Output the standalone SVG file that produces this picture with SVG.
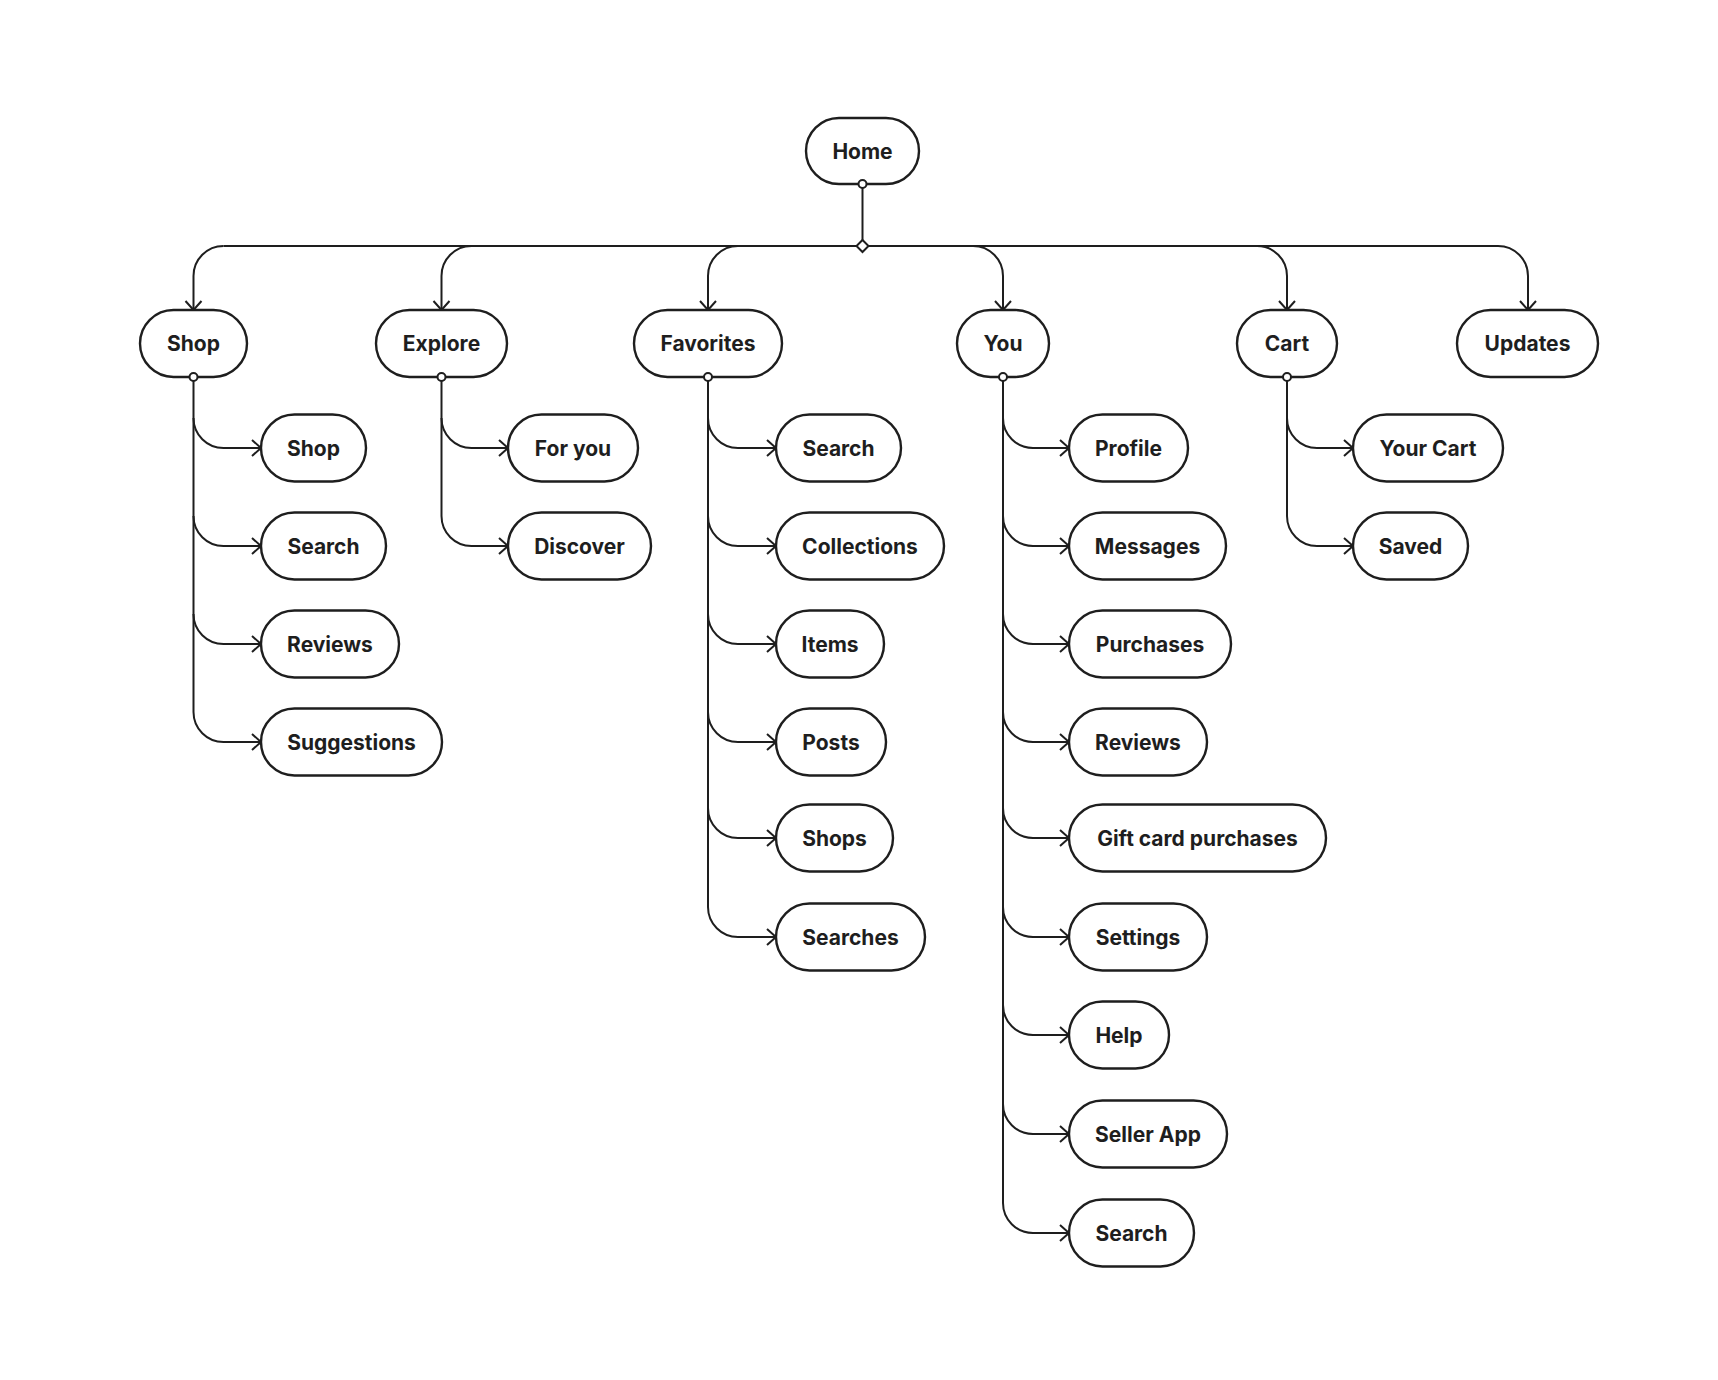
<svg xmlns="http://www.w3.org/2000/svg" width="1718" height="1380" viewBox="0 0 1718 1380">
<style>
.n rect{fill:#fff;stroke:#1e1e1e;stroke-width:2.4}
.n text{font-family:Inter,"Liberation Sans",sans-serif;font-weight:700;font-size:21px;fill:#1e1e1e;text-anchor:middle;dominant-baseline:central}
.c path{fill:none;stroke:#1e1e1e;stroke-width:2}
.a{marker-end:url(#arr)}
.dot{fill:#fff;stroke:#1e1e1e;stroke-width:2}
</style>
<defs>
<marker id="arr" viewBox="-12 -12 24 24" markerWidth="24" markerHeight="24" refX="0" refY="0" orient="auto" markerUnits="userSpaceOnUse">
<path d="M -9 -8 L 0 0 L -9 8" fill="none" stroke="#1e1e1e" stroke-width="2"/>
</marker>
</defs>
<rect width="1718" height="1380" fill="#fff"/>
<g class="c" id="connectors">
<path d="M 862.5 187 V 246"/>
<path d="M 223.5 246 H 1498"/>
<path class="a" d="M 223.5 246 A 30 30 0 0 0 193.5 276 V 310"/>
<path class="a" d="M 471.5 246 A 30 30 0 0 0 441.5 276 V 310"/>
<path class="a" d="M 738 246 A 30 30 0 0 0 708 276 V 310"/>
<path class="a" d="M 973 246 A 30 30 0 0 1 1003 276 V 310"/>
<path class="a" d="M 1257 246 A 30 30 0 0 1 1287 276 V 310"/>
<path class="a" d="M 1498 246 A 30 30 0 0 1 1528 276 V 310"/>
<path d="M 193.5 381 V 712"/>
<path class="a" d="M 193.5 418 A 30 30 0 0 0 223.5 448 H 261"/>
<path class="a" d="M 193.5 516 A 30 30 0 0 0 223.5 546 H 261"/>
<path class="a" d="M 193.5 614 A 30 30 0 0 0 223.5 644 H 261"/>
<path class="a" d="M 193.5 712 A 30 30 0 0 0 223.5 742 H 261"/>
<path d="M 441.5 381 V 516"/>
<path class="a" d="M 441.5 418 A 30 30 0 0 0 471.5 448 H 508"/>
<path class="a" d="M 441.5 516 A 30 30 0 0 0 471.5 546 H 508"/>
<path d="M 708 381 V 907"/>
<path class="a" d="M 708 418 A 30 30 0 0 0 738 448 H 776"/>
<path class="a" d="M 708 516 A 30 30 0 0 0 738 546 H 776"/>
<path class="a" d="M 708 614 A 30 30 0 0 0 738 644 H 776"/>
<path class="a" d="M 708 712 A 30 30 0 0 0 738 742 H 776"/>
<path class="a" d="M 708 808 A 30 30 0 0 0 738 838 H 776"/>
<path class="a" d="M 708 907 A 30 30 0 0 0 738 937 H 776"/>
<path d="M 1003 381 V 1203"/>
<path class="a" d="M 1003 418 A 30 30 0 0 0 1033 448 H 1069"/>
<path class="a" d="M 1003 516 A 30 30 0 0 0 1033 546 H 1069"/>
<path class="a" d="M 1003 614 A 30 30 0 0 0 1033 644 H 1069"/>
<path class="a" d="M 1003 712 A 30 30 0 0 0 1033 742 H 1069"/>
<path class="a" d="M 1003 808 A 30 30 0 0 0 1033 838 H 1069"/>
<path class="a" d="M 1003 907 A 30 30 0 0 0 1033 937 H 1069"/>
<path class="a" d="M 1003 1005 A 30 30 0 0 0 1033 1035 H 1069"/>
<path class="a" d="M 1003 1104 A 30 30 0 0 0 1033 1134 H 1069"/>
<path class="a" d="M 1003 1203 A 30 30 0 0 0 1033 1233 H 1069"/>
<path d="M 1287 381 V 516"/>
<path class="a" d="M 1287 418 A 30 30 0 0 0 1317 448 H 1353"/>
<path class="a" d="M 1287 516 A 30 30 0 0 0 1317 546 H 1353"/>
</g>
<g id="home" class="n"><rect x="806" y="118" width="113" height="66" rx="33"/><text x="862.5" y="151">Home</text></g>
<g id="shop" class="n"><rect x="140" y="310" width="107" height="67" rx="33.5"/><text x="193.5" y="343.5">Shop</text></g>
<g id="explore" class="n"><rect x="376" y="310" width="131" height="67" rx="33.5"/><text x="441.5" y="343.5">Explore</text></g>
<g id="favorites" class="n"><rect x="634" y="310" width="148" height="67" rx="33.5"/><text x="708" y="343.5">Favorites</text></g>
<g id="you" class="n"><rect x="957" y="310" width="92" height="67" rx="33.5"/><text x="1003" y="343.5">You</text></g>
<g id="cart" class="n"><rect x="1237" y="310" width="100" height="67" rx="33.5"/><text x="1287" y="343.5">Cart</text></g>
<g id="updates" class="n"><rect x="1457" y="310" width="141" height="67" rx="33.5"/><text x="1527.5" y="343.5">Updates</text></g>
<g id="shop-shop" class="n"><rect x="261" y="414.5" width="105" height="67" rx="33.5"/><text x="313.5" y="448">Shop</text></g>
<g id="shop-search" class="n"><rect x="261" y="512.5" width="125" height="67" rx="33.5"/><text x="323.5" y="546">Search</text></g>
<g id="shop-reviews" class="n"><rect x="261" y="610.5" width="138" height="67" rx="33.5"/><text x="330" y="644">Reviews</text></g>
<g id="shop-suggestions" class="n"><rect x="261" y="708.5" width="181" height="67" rx="33.5"/><text x="351.5" y="742">Suggestions</text></g>
<g id="explore-foryou" class="n"><rect x="508" y="414.5" width="130" height="67" rx="33.5"/><text x="573" y="448">For you</text></g>
<g id="explore-discover" class="n"><rect x="508" y="512.5" width="143" height="67" rx="33.5"/><text x="579.5" y="546">Discover</text></g>
<g id="fav-search" class="n"><rect x="776" y="414.5" width="125" height="67" rx="33.5"/><text x="838.5" y="448">Search</text></g>
<g id="fav-collections" class="n"><rect x="776" y="512.5" width="168" height="67" rx="33.5"/><text x="860" y="546">Collections</text></g>
<g id="fav-items" class="n"><rect x="776" y="610.5" width="108" height="67" rx="33.5"/><text x="830" y="644">Items</text></g>
<g id="fav-posts" class="n"><rect x="776" y="708.5" width="110" height="67" rx="33.5"/><text x="831" y="742">Posts</text></g>
<g id="fav-shops" class="n"><rect x="776" y="804.5" width="117" height="67" rx="33.5"/><text x="834.5" y="838">Shops</text></g>
<g id="fav-searches" class="n"><rect x="776" y="903.5" width="149" height="67" rx="33.5"/><text x="850.5" y="937">Searches</text></g>
<g id="you-profile" class="n"><rect x="1069" y="414.5" width="119" height="67" rx="33.5"/><text x="1128.5" y="448">Profile</text></g>
<g id="you-messages" class="n"><rect x="1069" y="512.5" width="157" height="67" rx="33.5"/><text x="1147.5" y="546">Messages</text></g>
<g id="you-purchases" class="n"><rect x="1069" y="610.5" width="162" height="67" rx="33.5"/><text x="1150" y="644">Purchases</text></g>
<g id="you-reviews" class="n"><rect x="1069" y="708.5" width="138" height="67" rx="33.5"/><text x="1138" y="742">Reviews</text></g>
<g id="you-giftcard" class="n"><rect x="1069" y="804.5" width="257" height="67" rx="33.5"/><text x="1197.5" y="838">Gift card purchases</text></g>
<g id="you-settings" class="n"><rect x="1069" y="903.5" width="138" height="67" rx="33.5"/><text x="1138" y="937">Settings</text></g>
<g id="you-help" class="n"><rect x="1069" y="1001.5" width="100" height="67" rx="33.5"/><text x="1119" y="1035">Help</text></g>
<g id="you-sellerapp" class="n"><rect x="1069" y="1100.5" width="158" height="67" rx="33.5"/><text x="1148" y="1134">Seller App</text></g>
<g id="you-search" class="n"><rect x="1069" y="1199.5" width="125" height="67" rx="33.5"/><text x="1131.5" y="1233">Search</text></g>
<g id="cart-yourcart" class="n"><rect x="1353" y="414.5" width="150" height="67" rx="33.5"/><text x="1428" y="448">Your Cart</text></g>
<g id="cart-saved" class="n"><rect x="1353" y="512.5" width="115" height="67" rx="33.5"/><text x="1410.5" y="546">Saved</text></g>
<g id="ports">
<circle class="dot" cx="862.5" cy="184" r="4"/>
<path class="dot" d="M 862.5 240 L 868.5 246 L 862.5 252 L 856.5 246 Z"/>
<circle class="dot" cx="193.5" cy="377" r="4"/>
<circle class="dot" cx="441.5" cy="377" r="4"/>
<circle class="dot" cx="708" cy="377" r="4"/>
<circle class="dot" cx="1003" cy="377" r="4"/>
<circle class="dot" cx="1287" cy="377" r="4"/>
</g>
</svg>
